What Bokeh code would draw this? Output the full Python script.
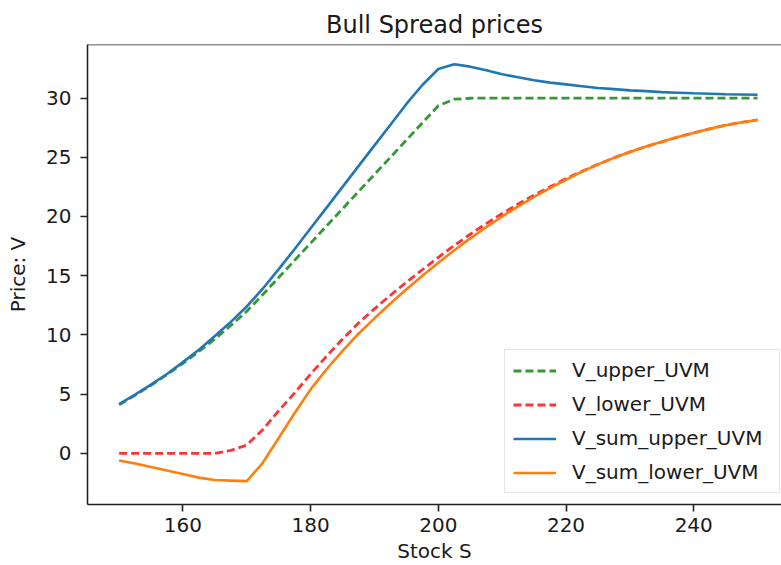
from bokeh.plotting import figure
from bokeh.models import Range1d, FixedTicker, Legend, LegendItem, Span
from bokeh.embed import file_html
from bokeh.resources import INLINE

# Stock price grid
stock_s = [150, 152.5, 155, 157.5, 160, 162.5, 165, 167.5, 170, 172.5,
           175, 177.5, 180, 182.5, 185, 187.5, 190, 192.5, 195, 197.5,
           200, 202.5, 205, 207.5, 210, 212.5, 215, 217.5, 220, 222.5,
           225, 227.5, 230, 232.5, 235, 237.5, 240, 242.5, 245, 247.5, 250]

v_upper_uvm = [4.1, 4.9, 5.75, 6.65, 7.6, 8.6, 9.65, 10.8, 12.0, 13.4,
               14.85, 16.3, 17.75, 19.2, 20.65, 22.1, 23.55, 25.0, 26.45, 27.9,
               29.35, 29.9, 29.98, 30.0, 30.0, 30.0, 30.0, 30.0, 30.0, 30.0,
               30.0, 30.0, 30.0, 30.0, 30.0, 30.0, 30.0, 30.0, 30.0, 30.0, 30.0]

v_lower_uvm = [0.0, 0.0, 0.0, 0.0, 0.0, 0.0, 0.0, 0.25, 0.7, 2.0,
               3.6, 5.1, 6.7, 8.2, 9.65, 11.0, 12.2, 13.35, 14.45, 15.5,
               16.55, 17.55, 18.5, 19.4, 20.25, 21.05, 21.8, 22.5, 23.2, 23.82,
               24.4, 24.95, 25.45, 25.9, 26.3, 26.7, 27.05, 27.4, 27.7, 27.95, 28.15]

v_sum_upper_uvm = [4.15, 4.95, 5.8, 6.7, 7.7, 8.75, 9.9, 11.1, 12.4, 13.9,
                   15.55, 17.25, 19.0, 20.75, 22.5, 24.25, 26.0, 27.75, 29.5, 31.1,
                   32.45, 32.85, 32.65, 32.35, 32.0, 31.75, 31.5, 31.3, 31.15, 31.0,
                   30.85, 30.75, 30.65, 30.58, 30.5, 30.45, 30.4, 30.36, 30.32, 30.3, 30.28]

v_sum_lower_uvm = [-0.6, -0.85, -1.15, -1.45, -1.75, -2.05, -2.25, -2.3, -2.35, -0.8,
                   1.3, 3.4, 5.4, 7.1, 8.65, 10.1, 11.4, 12.65, 13.85, 15.0,
                   16.1, 17.15, 18.15, 19.1, 20.0, 20.85, 21.65, 22.4, 23.1, 23.78,
                   24.4, 24.95, 25.45, 25.9, 26.3, 26.7, 27.05, 27.4, 27.7, 27.95, 28.15]

x_ticks = [160, 180, 200, 220, 240]
y_ticks = [0, 5, 10, 15, 20, 25, 30]

FONT = "DejaVu Sans"
TXT = "#1a1a1a"

p = figure(width=781, height=565, output_backend="svg", toolbar_location=None,
           x_range=Range1d(145.05, 253.75), y_range=Range1d(-4.32, 34.52),
           min_border_left=87, min_border_right=0, min_border_top=44,
           min_border_bottom=10)
p.outline_line_color = None
p.xgrid.visible = False
p.ygrid.visible = False
p.background_fill_color = "white"
p.border_fill_color = "white"

p.title.text = "Bull Spread prices"
p.title.text_font = FONT
p.title.text_font_size = "24px"
p.title.text_font_style = "normal"
p.title.text_color = TXT
p.title.align = "center"
p.title.offset = 7
p.title.standoff = 11

for ax, lab, ticks in ((p.xaxis[0], "Stock S", x_ticks), (p.yaxis[0], "Price: V", y_ticks)):
    ax.ticker = FixedTicker(ticks=ticks)
    ax.axis_label = lab
    ax.axis_label_text_font = FONT
    ax.axis_label_text_font_size = "20px"
    ax.axis_label_text_font_style = "normal"
    ax.axis_label_text_color = TXT
    ax.major_label_text_font = FONT
    ax.major_label_text_font_size = "20px"
    ax.major_label_text_color = TXT
    ax.major_tick_out = 7
    ax.major_tick_in = 0
    ax.minor_tick_out = 0
    ax.minor_tick_in = 0
    ax.major_tick_line_width = 1.6
    ax.major_tick_line_color = "#222222"
    ax.axis_line_width = 1.6
    ax.axis_line_color = "#222222"

p.xaxis.major_label_standoff = 6
p.xaxis.axis_label_standoff = 4
p.yaxis.major_label_standoff = 9
p.yaxis.axis_label_standoff = 13

top_line = Span(location=34.52, dimension="width", line_color="#222222", line_width=1.6)
p.add_layout(top_line)

r_up = p.line(stock_s, v_upper_uvm, line_color="green", line_alpha=0.8, line_width=2.8,
              line_dash="8 4")
r_lo = p.line(stock_s, v_lower_uvm, line_color="red", line_alpha=0.8, line_width=2.8,
              line_dash="8 4")
r_su = p.line(stock_s, v_sum_upper_uvm, line_color="#1f77b4", line_width=2.6)
r_sl = p.line(stock_s, v_sum_lower_uvm, line_color="#ff7f0e", line_width=2.6)

legend = Legend(items=[
    LegendItem(label="V_upper_UVM", renderers=[r_up]),
    LegendItem(label="V_lower_UVM", renderers=[r_lo]),
    LegendItem(label="V_sum_upper_UVM", renderers=[r_su]),
    LegendItem(label="V_sum_lower_UVM", renderers=[r_sl]),
], location=(417, 11))
legend.label_text_font = FONT
legend.label_text_font_size = "20px"
legend.label_text_color = TXT
legend.glyph_width = 43
legend.glyph_height = 23
legend.label_height = 23
legend.label_width = 199
legend.label_standoff = 16
legend.spacing = 10
legend.padding = 8
legend.margin = 0
legend.border_line_color = "#cccccc"
legend.border_line_width = 1.5
legend.background_fill_color = "white"
legend.background_fill_alpha = 0.8
p.add_layout(legend)

open("out.html", "w").write(file_html(p, INLINE))
